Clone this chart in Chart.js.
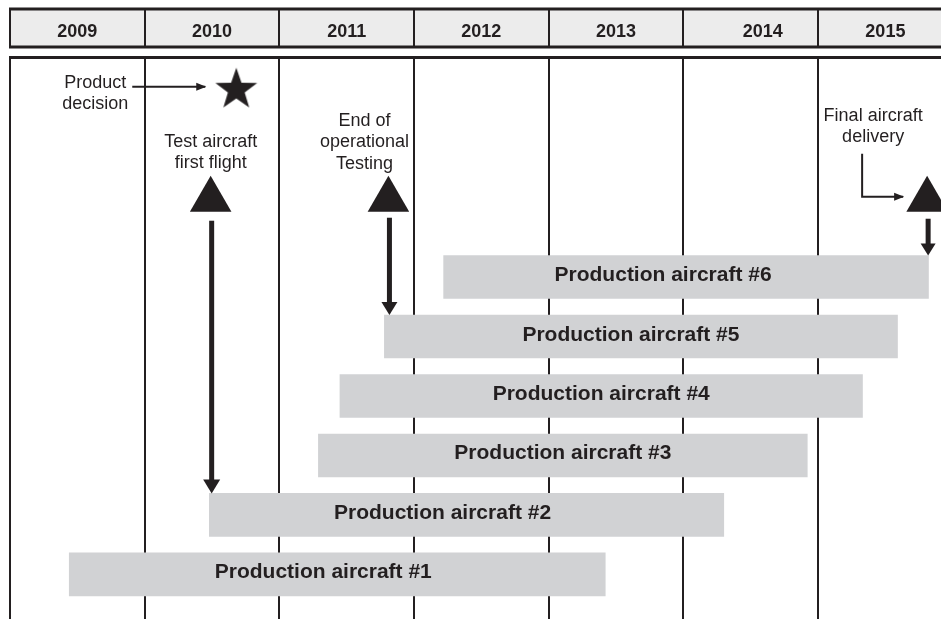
<!DOCTYPE html>
<html>
<head>
<meta charset="utf-8">
<title>Production aircraft schedule</title>
<script src="https://cdn.jsdelivr.net/npm/chart.js@4.4.1/dist/chart.umd.min.js"></script>
<style>
    html, body { margin: 0; padding: 0; background: #fff; }
    canvas { display: block; }
</style>
</head>
<body>
<canvas id="scheduleChart" width="941" height="619"></canvas>
<script>
// Timeline columns
const years = [2009, 2010, 2011, 2012, 2013, 2014, 2015];

// Production bars (bottom to top)
const aircraft = ['Production aircraft #1', 'Production aircraft #2', 'Production aircraft #3',
    'Production aircraft #4', 'Production aircraft #5', 'Production aircraft #6'];
const aircraftRow = [1, 2, 3, 4, 5, 6];
const startDates = [2009.44, 2010.48, 2011.29, 2011.45, 2011.78, 2012.22];
const endDates = [2013.42, 2014.30, 2014.92, 2015.33, 2015.59, 2015.82];

// Milestones
const milestoneNames = [['Product', 'decision'], ['Test aircraft', 'first flight'],
    ['End of', 'operational', 'Testing'], ['Final aircraft', 'delivery']];
const milestoneDates = [2010.68, 2010.49, 2011.81, 2015.81];
const milestoneLevel = [9.15, 7.3, 7.3, 7.3];

const ink = '#231f20';
const fontFamily = '"Liberation Sans", Arial, Helvetica, sans-serif';

// filled five point star used as point style
function makeStar(r) {
    const c = document.createElement('canvas');
    c.width = c.height = Math.ceil(r * 2) + 2;
    const g = c.getContext('2d');
    const cx = c.width / 2, cy = c.height / 2;
    g.fillStyle = ink;
    g.beginPath();
    for (let k = 0; k < 10; k++) {
        const rad = (k % 2 === 0) ? r : r * 0.4;
        const a = -Math.PI / 2 + k * Math.PI / 5;
        const px = cx + Math.cos(a) * rad, py = cy + Math.sin(a) * rad;
        if (k === 0) g.moveTo(px, py); else g.lineTo(px, py);
    }
    g.closePath();
    g.fill();
    return c;
}

function downArrow(ctx, x, y0, tip, shaft, headW, headH) {
    ctx.fillRect(x - shaft / 2, y0, shaft, tip - headH - y0 + 1);
    ctx.beginPath();
    ctx.moveTo(x - headW / 2, tip - headH);
    ctx.lineTo(x + headW / 2, tip - headH);
    ctx.lineTo(x, tip);
    ctx.closePath();
    ctx.fill();
}

function thinArrow(ctx, pts) {
    ctx.lineWidth = 2;
    ctx.beginPath();
    ctx.moveTo(pts[0][0], pts[0][1]);
    for (let i = 1; i < pts.length; i++) ctx.lineTo(pts[i][0], pts[i][1]);
    ctx.stroke();
    const [tx, ty] = pts[pts.length - 1];
    ctx.beginPath();
    ctx.moveTo(tx + 1, ty);
    ctx.lineTo(tx - 9, ty - 4);
    ctx.lineTo(tx - 9, ty + 4);
    ctx.closePath();
    ctx.fill();
}

// year header above the plot
const headerNudge = [0, 0, 0, 0, 0, 12, 0];
const yearHeader = {
    id: 'yearHeader',
    afterDraw(chart) {
        const { ctx, scales: { x } } = chart;
        const top = 9, bottom = 47;
        const left = x.getPixelForValue(years[0]);
        const right = chart.width + 2;
        ctx.save();
        ctx.fillStyle = '#ececec';
        ctx.fillRect(left, top, right - left, bottom - top);
        ctx.strokeStyle = ink;
        ctx.lineWidth = 3;
        ctx.beginPath();
        ctx.moveTo(left - 1, top); ctx.lineTo(right, top);
        ctx.moveTo(left - 1, bottom); ctx.lineTo(right, bottom);
        ctx.stroke();
        ctx.lineWidth = 2;
        years.forEach(yr => {
            const px = Math.round(x.getPixelForValue(yr));
            ctx.beginPath();
            ctx.moveTo(px, top); ctx.lineTo(px, bottom);
            ctx.stroke();
        });
        ctx.fillStyle = ink;
        ctx.font = 'bold 18px ' + fontFamily;
        ctx.textAlign = 'center';
        ctx.textBaseline = 'alphabetic';
        years.forEach((yr, i) => {
            ctx.fillText(String(yr), x.getPixelForValue(yr + 0.5) + headerNudge[i], 37);
        });
        ctx.restore();
    }
};

// bar labels, milestone captions and arrows
const labelNudge = [-14, -24, 0, 0, -10, -23];
const captionOffset = [[-141, -2], [0, -53], [-24, -74], [-54, -79]];

const milestoneNotes = {
    id: 'milestoneNotes',
    afterDatasetsDraw(chart) {
        const ctx = chart.ctx;
        const bars = chart.getDatasetMeta(0).data;
        const pts = chart.getDatasetMeta(1).data;
        ctx.save();
        ctx.fillStyle = ink;
        ctx.strokeStyle = ink;

        ctx.font = 'bold 21px ' + fontFamily;
        ctx.textAlign = 'center';
        ctx.textBaseline = 'alphabetic';
        bars.forEach((bar, i) => {
            const cx = (bar.x + bar.base) / 2 + labelNudge[i];
            ctx.fillText(aircraft[i], cx, bar.y + 4);
        });

        ctx.font = '18px ' + fontFamily;
        pts.forEach((p, i) => {
            const [dx, dy] = captionOffset[i];
            milestoneNames[i].forEach((line, j) => {
                ctx.fillText(line, p.x + dx, p.y + dy + j * 21.5);
            });
        });

        const top = b => b.y - b.height / 2;
        // product decision -> star
        thinArrow(ctx, [[pts[0].x - 104, pts[0].y - 3], [pts[0].x - 31, pts[0].y - 3]]);
        // first flight -> aircraft #2
        downArrow(ctx, pts[1].x + 1, pts[1].y + 21, top(bars[1]), 5, 17, 14);
        // end of testing -> aircraft #5
        downArrow(ctx, pts[2].x + 1, pts[2].y + 18, top(bars[4]), 5, 16, 13);
        // final delivery
        thinArrow(ctx, [[pts[3].x - 65, pts[3].y - 46], [pts[3].x - 65, pts[3].y - 3], [pts[3].x - 24, pts[3].y - 3]]);
        downArrow(ctx, pts[3].x + 1, pts[3].y + 19, top(bars[5]), 5, 15, 12);
        ctx.restore();
    }
};

const barData = aircraftRow.map((row, i) => ({ y: row, x: [startDates[i], endDates[i]] }));
const milestoneData = milestoneDates.map((d, i) => ({ x: d, y: milestoneLevel[i] }));

new Chart(document.getElementById('scheduleChart'), {
    type: 'bar',
    data: {
        datasets: [{
            type: 'bar',
            label: 'Production',
            data: barData,
            backgroundColor: '#d1d2d4',
            borderWidth: 0,
            barThickness: 43
        }, {
            type: 'scatter',
            label: 'Milestones',
            data: milestoneData,
            pointStyle: [makeStar(22), 'triangle', 'triangle', 'triangle'],
            pointRadius: 24,
            pointBorderWidth: 0,
            backgroundColor: ink,
            borderColor: ink,
            clip: false
        }]
    },
    options: {
        indexAxis: 'y',
        responsive: false,
        animation: false,
        events: [],
        layout: { autoPadding: false, padding: { top: 57, left: 10, right: 0, bottom: 0 } },
        scales: {
            x: {
                type: 'linear',
                position: 'top',
                min: 2009,
                max: 2015.913,
                afterFit(scale) { scale.height = 0; },
                ticks: { display: false, stepSize: 1, includeBounds: false },
                grid: { color: ink, lineWidth: 2, drawTicks: false },
                border: { display: true, color: ink, width: 3 }
            },
            y: {
                type: 'linear',
                display: false,
                offset: false,
                min: 0.25,
                max: 9.7
            }
        },
        plugins: {
            legend: { display: false },
            tooltip: { enabled: false }
        }
    },
    plugins: [yearHeader, milestoneNotes]
});
</script>
</body>
</html>
